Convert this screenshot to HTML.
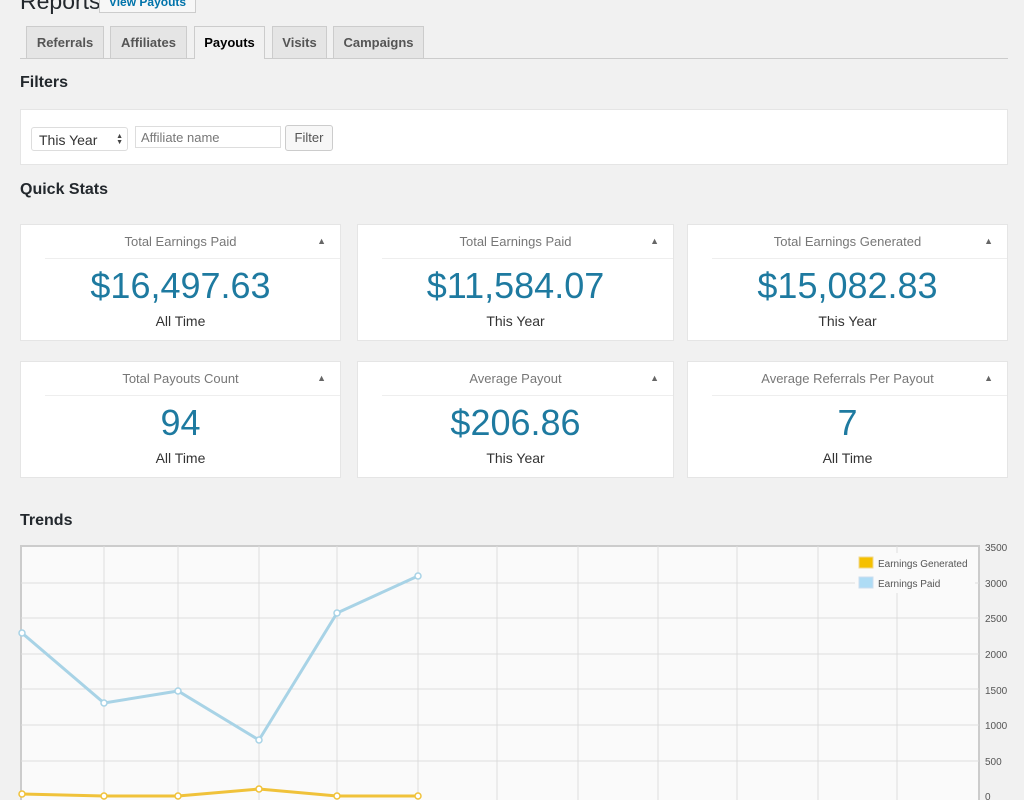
<!DOCTYPE html>
<html><head><meta charset="utf-8"><style>
body{margin:0;width:1024px;height:800px;overflow:hidden;background:#f1f1f1;font-family:"Liberation Sans",sans-serif;position:relative;color:#23282d}
.a{position:absolute}
.tab{position:absolute;top:26px;height:32px;border:1px solid #ccc;border-bottom:none;background:#e5e5e5;font-weight:bold;font-size:13px;color:#555;line-height:32px;text-align:center;box-sizing:border-box}
h2{position:absolute;margin:0;font-size:16px;font-weight:bold;color:#23282d}
.card{position:absolute;background:#fff;border:1px solid #e5e5e5;box-sizing:border-box}
.card .t{position:absolute;top:9px;left:0;right:0;text-align:center;font-size:13px;color:#777}
.card .ar{position:absolute;top:11px;right:14px;font-size:9px;color:#666}
.card .ln{position:absolute;top:33px;left:24px;right:0;border-top:1px solid #eee}
.card .v{position:absolute;top:40px;left:0;right:0;text-align:center;font-size:36px;color:#1e7aa0}
.card .s{position:absolute;top:88px;left:0;right:0;text-align:center;font-size:14px;color:#333}
</style></head><body>
<div class="a" style="left:20px;top:-12px;font-size:23px;color:#23282d">Reports</div>
<div class="a" style="left:99px;top:-6px;width:95px;height:17px;border:1px solid #ccc;background:#f7f7f7;font-size:12px;color:#0073aa;font-weight:bold;text-align:center;line-height:14px">View Payouts</div>
<div class="a" style="left:20px;top:58px;width:988px;border-top:1px solid #ccc"></div>
<div class="tab" style="left:26px;width:78px">Referrals</div>
<div class="tab" style="left:110px;width:77px">Affiliates</div>
<div class="tab" style="left:194px;width:71px;background:#f1f1f1;color:#000;height:33px">Payouts</div>
<div class="tab" style="left:272px;width:55px">Visits</div>
<div class="tab" style="left:333px;width:91px">Campaigns</div>
<h2 style="left:20px;top:74px">Filters</h2>
<div class="a" style="left:20px;top:109px;width:988px;height:56px;background:#fff;border:1px solid #e5e5e5;box-sizing:border-box"></div>
<div class="a" style="left:31px;top:127px;width:97px;height:24px;border:1px solid #ddd;border-radius:3px;background:#fff;font-size:14px;line-height:24px;padding-left:7px;box-sizing:border-box;color:#333">This Year<span style="position:absolute;right:4px;top:0;font-size:7px;line-height:6px;padding-top:6px;color:#444">&#9650;<br>&#9660;</span></div>
<div class="a" style="left:135px;top:126px;width:146px;height:22px;border:1px solid #ddd;background:#fff;font-size:13px;line-height:22px;padding-left:5px;box-sizing:border-box;color:#777">Affiliate name</div>
<div class="a" style="left:285px;top:125px;width:48px;height:26px;border:1px solid #ccc;border-radius:3px;background:#f7f7f7;font-size:13px;line-height:24px;text-align:center;box-sizing:border-box;color:#555">Filter</div>
<h2 style="left:20px;top:181px">Quick Stats</h2>

<div class="card" style="left:20px;top:224px;width:321px;height:117px"><div class="t">Total Earnings Paid</div><div class="ar">&#9650;</div><div class="ln"></div><div class="v">$16,497.63</div><div class="s">All Time</div></div>
<div class="card" style="left:357px;top:224px;width:317px;height:117px"><div class="t">Total Earnings Paid</div><div class="ar">&#9650;</div><div class="ln"></div><div class="v">$11,584.07</div><div class="s">This Year</div></div>
<div class="card" style="left:687px;top:224px;width:321px;height:117px"><div class="t">Total Earnings Generated</div><div class="ar">&#9650;</div><div class="ln"></div><div class="v">$15,082.83</div><div class="s">This Year</div></div>
<div class="card" style="left:20px;top:361px;width:321px;height:117px"><div class="t">Total Payouts Count</div><div class="ar">&#9650;</div><div class="ln"></div><div class="v">94</div><div class="s">All Time</div></div>
<div class="card" style="left:357px;top:361px;width:317px;height:117px"><div class="t">Average Payout</div><div class="ar">&#9650;</div><div class="ln"></div><div class="v">$206.86</div><div class="s">This Year</div></div>
<div class="card" style="left:687px;top:361px;width:321px;height:117px"><div class="t">Average Referrals Per Payout</div><div class="ar">&#9650;</div><div class="ln"></div><div class="v">7</div><div class="s">All Time</div></div>

<h2 style="left:20px;top:512px">Trends</h2>
<svg class="a" style="left:0;top:0" width="1024" height="800">
<rect x="21" y="546" width="958" height="256" fill="#fafafa" stroke="#ccc" stroke-width="2"/>
<g stroke="#ddd" stroke-width="1">
<line x1="21" x2="979" y1="583" y2="583"/><line x1="21" x2="979" y1="618" y2="618"/><line x1="21" x2="979" y1="654" y2="654"/><line x1="21" x2="979" y1="689" y2="689"/><line x1="21" x2="979" y1="725" y2="725"/><line x1="21" x2="979" y1="761" y2="761"/>
<line x1="104" x2="104" y1="546" y2="800"/><line x1="178" x2="178" y1="546" y2="800"/><line x1="259" x2="259" y1="546" y2="800"/><line x1="337" x2="337" y1="546" y2="800"/><line x1="418" x2="418" y1="546" y2="800"/><line x1="497" x2="497" y1="546" y2="800"/><line x1="578" x2="578" y1="546" y2="800"/><line x1="658" x2="658" y1="546" y2="800"/><line x1="737" x2="737" y1="546" y2="800"/><line x1="818" x2="818" y1="546" y2="800"/><line x1="897" x2="897" y1="546" y2="800"/>
</g>
<g font-size="10" fill="#555" font-family="Liberation Sans,sans-serif">
<text x="985" y="551">3500</text><text x="985" y="587">3000</text><text x="985" y="622">2500</text><text x="985" y="658">2000</text><text x="985" y="694">1500</text><text x="985" y="729">1000</text><text x="985" y="765">500</text><text x="985" y="800">0</text>
</g>
<polyline points="22,633 104,703 178,691 259,740 337,613 418,576" fill="none" stroke="#a8d3e6" stroke-width="3"/>
<g fill="#fff" stroke="#a8d3e6" stroke-width="1.5"><circle cx="22" cy="633" r="3"/><circle cx="104" cy="703" r="3"/><circle cx="178" cy="691" r="3"/><circle cx="259" cy="740" r="3"/><circle cx="337" cy="613" r="3"/><circle cx="418" cy="576" r="3"/></g>
<polyline points="22,794 104,796 178,796 259,789 337,796 418,796" fill="none" stroke="#f0c23a" stroke-width="3"/>
<g fill="#fff" stroke="#f0c23a" stroke-width="1.5"><circle cx="22" cy="794" r="3"/><circle cx="104" cy="796" r="3"/><circle cx="178" cy="796" r="3"/><circle cx="259" cy="789" r="3"/><circle cx="337" cy="796" r="3"/><circle cx="418" cy="796" r="3"/></g>
<rect x="855" y="553" width="120" height="40" fill="#fafafa"/>
<rect x="859" y="557" width="14" height="11" fill="#f5c000" stroke="#f0d890"/>
<rect x="859" y="577" width="14" height="11" fill="#aedcf5" stroke="#cde"/>
<g font-size="10" fill="#555" font-family="Liberation Sans,sans-serif"><text x="878" y="567">Earnings Generated</text><text x="878" y="587">Earnings Paid</text></g>
</svg>
</body></html>
